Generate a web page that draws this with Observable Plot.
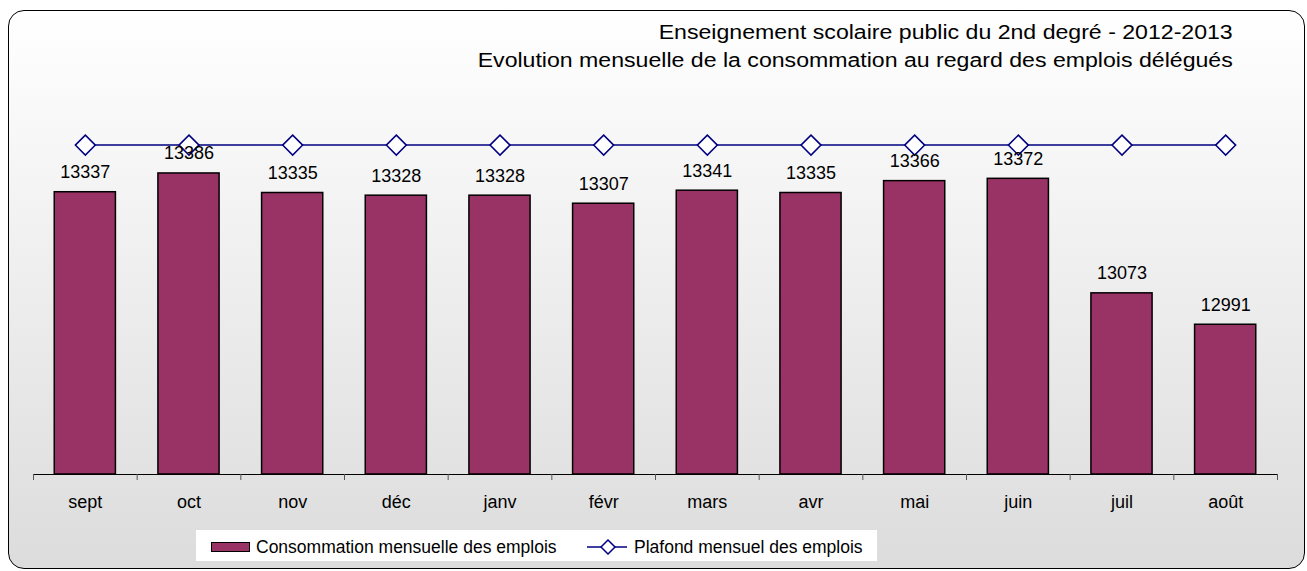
<!DOCTYPE html>
<html>
<head>
<meta charset="utf-8">
<script src="https://cdn.jsdelivr.net/npm/d3@7"></script>
<script src="https://cdn.jsdelivr.net/npm/@observablehq/plot@0.6"></script>
<style>
  body { margin: 0; width: 1307px; height: 571px; position: relative; overflow: hidden; background: #fff;
         font-family: "Liberation Sans", Arial, sans-serif; }
  #frame { position: absolute; left: 8px; top: 10px; width: 1297px; height: 559px; box-sizing: border-box;
           border: 1.5px solid #000; border-radius: 16px;
           background: linear-gradient(to bottom, #ffffff, #dcdcdc); }
  #title { position: absolute; right: 74px; top: 18px; text-align: right; font-size: 20px; line-height: 28px;
           transform: scaleX(1.155); transform-origin: right top; white-space: nowrap; color: #000; }
  #chart { position: absolute; left: 0; top: 0; }
  #legend { position: absolute; left: 196px; top: 530px; width: 681px; height: 31px; background: #fff; }
  .lg { position: absolute; font-size: 17.5px; line-height: 20px; white-space: nowrap; color: #000; }
  #sw1 { position: absolute; left: 211px; top: 542px; width: 39px; height: 10px; box-sizing: border-box;
         background: #993366; border: 1.5px solid #000; }
  #sw2 { position: absolute; left: 587px; top: 539px; }
</style>
</head>
<body>
<div id="frame"></div>
<div id="title">Enseignement scolaire public du 2nd degré - 2012-2013<br>Evolution mensuelle de la consommation au regard des emplois délégués</div>
<div id="chart"></div>
<div id="legend"></div>
<div id="sw1"></div>
<div class="lg" style="left:256px;top:537px">Consommation mensuelle des emplois</div>
<svg id="sw2" width="42" height="16">
  <line x1="0" x2="40" y1="8" y2="8" stroke="#000080" stroke-width="1.5"></line>
  <path d="M21,1 L28,8 L21,15 L14,8 Z" fill="#fff" stroke="#000080" stroke-width="1.5"></path>
</svg>
<div class="lg" style="left:634px;top:537px">Plafond mensuel des emplois</div>
<script>
const months = ["sept", "oct", "nov", "déc", "janv", "févr", "mars", "avr", "mai", "juin", "juil", "août"];
const consommation = [13337, 13386, 13335, 13328, 13328, 13307, 13341, 13335, 13366, 13372, 13073, 12991];
const plafond = [13460, 13460, 13460, 13460, 13460, 13460, 13460, 13460, 13460, 13460, 13460, 13460];
const yMin = 12600, yMax = 13600;

const data = months.map((m, i) => ({i, month: m, conso: consommation[i], plafond: plafond[i]}));
const boundaries = d3.range(months.length + 1).map(i => i - 0.5);
const barHalf = 0.295;

const chart = Plot.plot({
  width: 1307,
  height: 520,
  marginLeft: 33,
  marginRight: 30,
  marginTop: 91,
  marginBottom: 46,
  style: {background: "transparent", color: "#000", fontFamily: "'Liberation Sans', Arial, sans-serif", overflow: "visible"},
  x: {type: "linear", domain: [-0.5, months.length - 0.5], label: null},
  y: {domain: [yMin, yMax], axis: null, label: null},
  marks: [
    Plot.rectY(data, {x1: d => d.i - barHalf, x2: d => d.i + barHalf, y1: yMin, y2: "conso",
      fill: "#993366", stroke: "#000", strokeWidth: 1.5}),
    Plot.ruleY([yMin], {stroke: "#000", strokeWidth: 1.2}),
    Plot.axisX(boundaries, {tickSize: 6, tickFormat: () => "", stroke: "#555", label: null}),
    Plot.axisX(d3.range(months.length), {tickSize: 0, tickPadding: 21, tickFormat: i => months[i],
      fontSize: 18, label: null}),
    Plot.line(data, {x: "i", y: "plafond", stroke: "#000080", strokeWidth: 1.5}),
    Plot.dot(data, {x: "i", y: "plafond", symbol: "diamond2", r: 9, stroke: "#000080", fill: "#fff", strokeWidth: 1.5}),
    Plot.text(data, {x: "i", y: "conso", text: d => String(d.conso), dy: -14, lineAnchor: "bottom",
      fontSize: 18, fill: "#000"})
  ]
});
document.getElementById("chart").appendChild(chart);
</script>
</body>
</html>
